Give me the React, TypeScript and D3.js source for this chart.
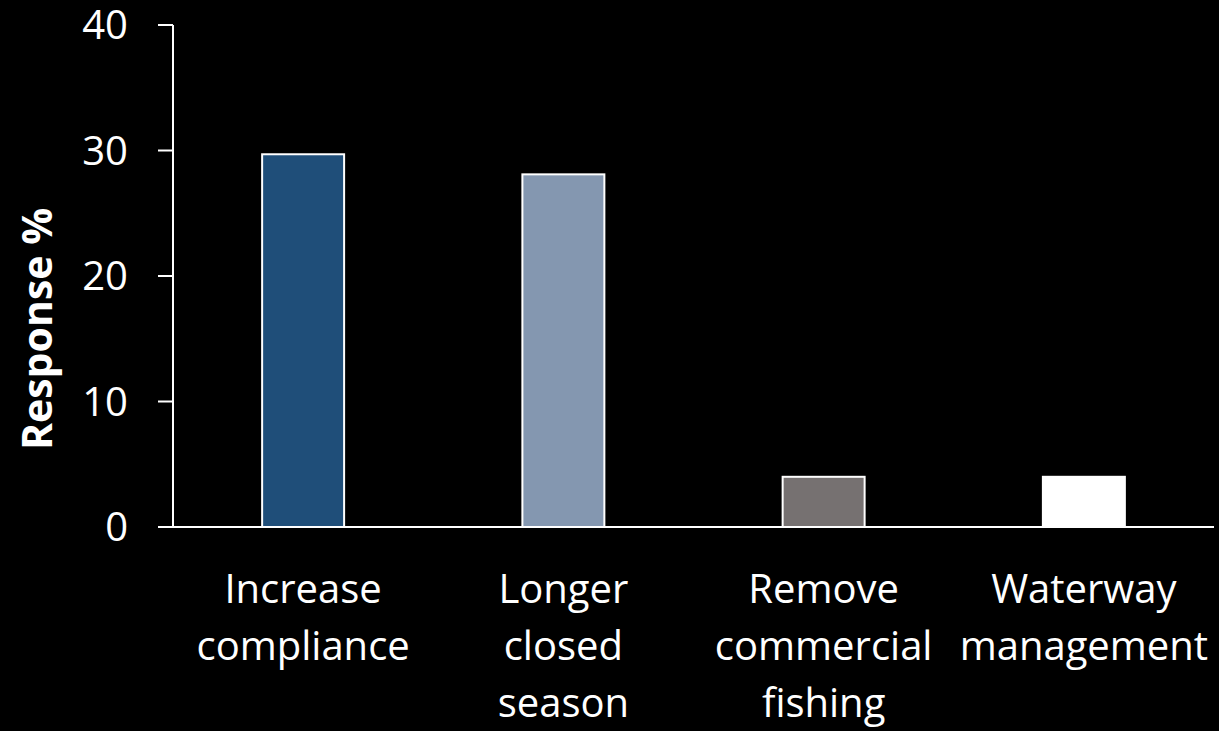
import React from "react";
import * as d3 from "d3";

const categories: string[][] = [
  ["Increase", "compliance"],
  ["Longer", "closed", "season"],
  ["Remove", "commercial", "fishing"],
  ["Waterway", "management"],
];
const values: number[] = [29.7, 28.1, 4.0, 4.0];
const barColors: string[] = ["#1F4E79", "#8497B0", "#767171", "#FFFFFF"];
const yTicks: number[] = [0, 10, 20, 30, 40];
const yTitle = "Response %";

const W = 1219;
const H = 731;
const left = 173;
const right = 1214;
const top = 25;
const bottom = 527;

export default function App() {
  const x = d3
    .scaleBand<number>()
    .domain(values.map((_, i) => i))
    .range([left, right])
    .paddingInner(0.685)
    .paddingOuter(0.3425);
  const y = d3.scaleLinear().domain([0, 40]).range([bottom, top]);
  const font = "'Open Sans', sans-serif";

  return (
    <div style={{ position: "fixed", left: 0, top: 0, width: W, height: H, background: "#000" }}>
      <svg width={W} height={H} style={{ display: "block", background: "#000" }}>
        <rect x={0} y={0} width={W} height={H} fill="#000" />
        {values.map((v, i) => (
          <rect
            key={i}
            x={x(i)!}
            y={y(v)}
            width={x.bandwidth()}
            height={y(0) - y(v)}
            fill={barColors[i]}
            stroke="#FFFFFF"
            strokeWidth={2}
          />
        ))}
        {/* y axis */}
        <line x1={left} x2={left} y1={y(40)} y2={y(0)} stroke="#fff" strokeWidth={2} />
        {yTicks.map((t) => (
          <g key={t}>
            <line x1={left - 15} x2={left} y1={y(t)} y2={y(t)} stroke="#fff" strokeWidth={2} />
            <text
              x={left - 45}
              y={y(t)}
              dy="0.36em"
              textAnchor="end"
              fill="#fff"
              fontFamily={font}
              fontSize={40}
            >
              {t}
            </text>
          </g>
        ))}
        {/* x axis */}
        <line x1={left - 15} x2={right} y1={y(0)} y2={y(0)} stroke="#fff" strokeWidth={2} />
        {categories.map((lines, i) => (
          <text
            key={i}
            x={x(i)! + x.bandwidth() / 2}
            y={603}
            textAnchor="middle"
            fill="#fff"
            fontFamily={font}
            fontSize={40}
          >
            {lines.map((l, j) => (
              <tspan key={j} x={x(i)! + x.bandwidth() / 2} y={603 + j * 57}>
                {l}
              </tspan>
            ))}
          </text>
        ))}
        <text
          transform={`translate(52, ${(y(0) + y(40)) / 2 + 53}) rotate(-90)`}
          textAnchor="middle"
          fill="#fff"
          fontFamily={font}
          fontWeight="bold"
          fontSize={41}
        >
          {yTitle}
        </text>
      </svg>
    </div>
  );
}
